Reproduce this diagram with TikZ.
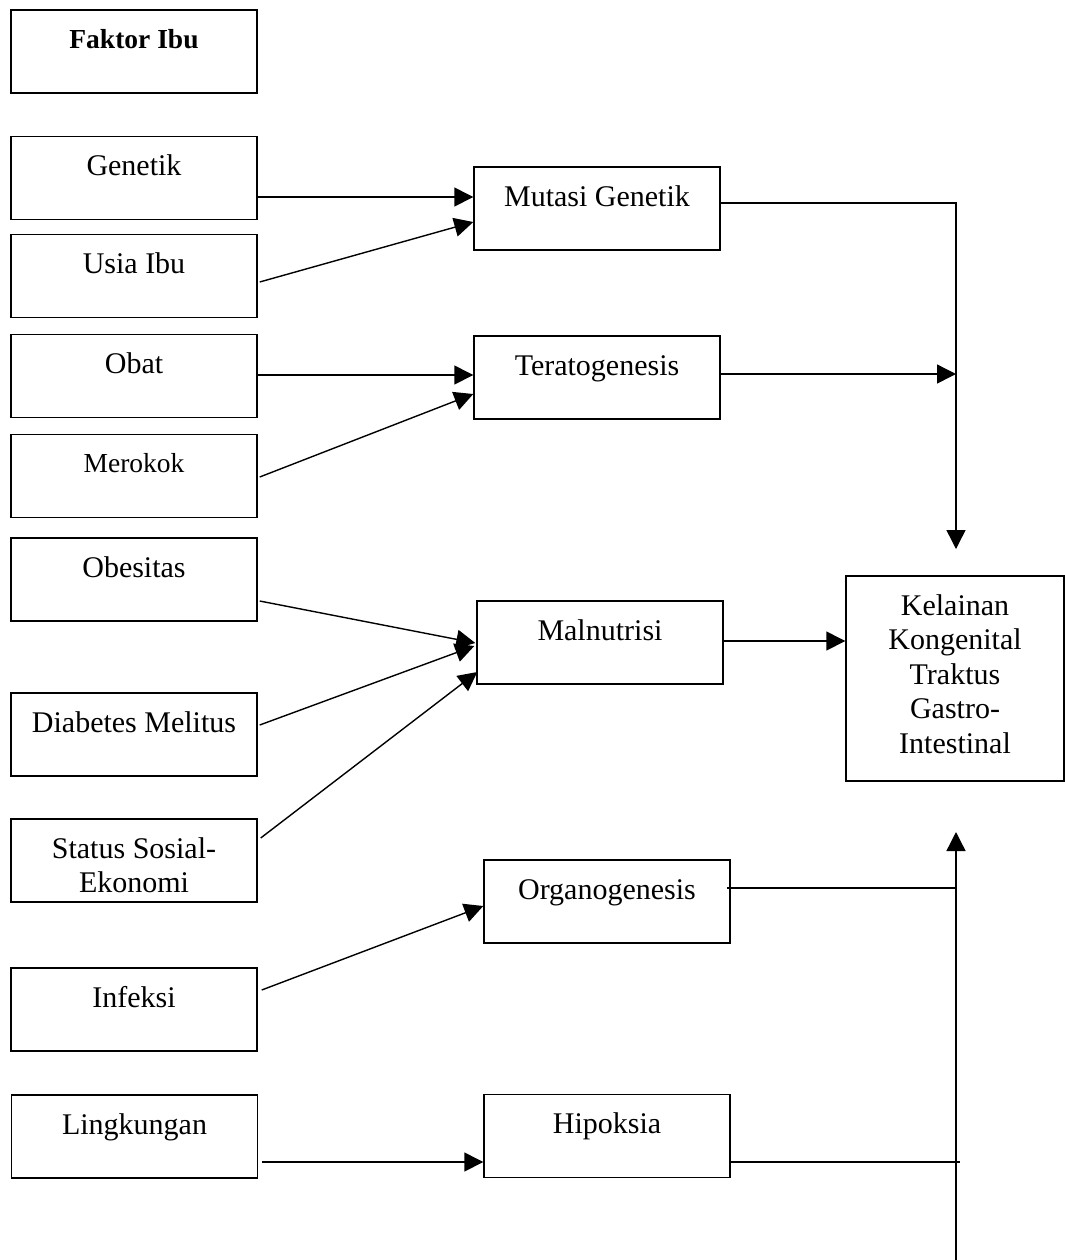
\documentclass[tikz,border=0pt]{standalone}
\usepackage{fontspec}
\setmainfont{Liberation Serif}
\usetikzlibrary{arrows.meta,calc}
\tikzset{
  box/.style={draw, line width=0.7pt, inner sep=0pt, minimum width=123pt,
    text height=19.5pt, text depth=22pt, font=\fontsize{15}{17.25}\selectfont},
  smallbox/.style={box, text height=19pt, text depth=22.5pt, font=\fontsize{13.75}{16}\selectfont},
  arr/.style={line width=0.7pt, -{Triangle[length=9.5pt,width=9.5pt]}},
  ln/.style={line width=0.7pt}
}
\begin{document}
\begin{tikzpicture}[x=0.5pt,y=-0.5pt]
\useasboundingbox (0,0) rectangle (1065,1260);
% left column
\node[box, text height=19pt, text depth=22.5pt, font=\fontsize{13.75}{16}\selectfont\bfseries] (fak) at (134,51.5) {Faktor Ibu};
\node[box] (gen) at (134,178) {Genetik};
\node[box] (usia) at (134,276) {Usia Ibu};
\node[box] (obat) at (134,376) {Obat};
\node[smallbox] (mer) at (134,476) {Merokok};
\node[box] (obe) at (134,579.5) {Obesitas};
\node[box] (dia) at (134,734.5) {Diabetes Melitus};
\node[box] (sta) at (134,860.5) {\begin{tabular}[t]{@{}c@{}}Status Sosial-\\Ekonomi\end{tabular}};
\node[box] (inf) at (134,1009.5) {Infeksi};
\node[box] (lin) at (134.5,1136.5) {Lingkungan};
% middle column
\node[box] (mut) at (597,208.5) {Mutasi Genetik};
\node[box] (ter) at (597,377.5) {Teratogenesis};
\node[box] (mal) at (600,642.5) {Malnutrisi};
\node[box] (org) at (607,901.5) {Organogenesis};
\node[box] (hip) at (607,1136) {Hipoksia};
% right
\node[box, minimum width=109pt, text depth=83pt] (kel) at (955,678.5)
  {\begin{tabular}[t]{@{}c@{}}Kelainan\\Kongenital\\Traktus\\Gastro-\\Intestinal\end{tabular}};
\coordinate (dn) at (956,549);
\coordinate (up) at (956,832);
\coordinate (bot) at (956,1260);
% connectors
\draw[arr] ($(gen.east)+(0,19)$) -- ($(mut.west)+(0,-11.5)$);
\draw[arr] ($(usia.east)+(2,6)$) -- ($(mut.west)+(0,13.5)$);
\draw[arr] ($(obat.east)+(0,-1)$) -- ($(ter.west)+(0,-2.5)$);
\draw[arr] ($(mer.east)+(2,1)$) -- ($(ter.west)+(0,16.5)$);
\draw[arr] ($(obe.east)+(2,21.5)$) -- ($(mal.west)+(-1,0.5)$);
\draw[arr] ($(dia.east)+(2,-9.5)$) -- ($(mal.west)+(-2,3.5)$);
\draw[arr] ($(sta.east)+(3,-22.5)$) -- ($(mal.west)+(1,29.5)$);
\draw[arr] ($(inf.east)+(4,-19.5)$) -- ($(org.west)+(0,4.5)$);
\draw[arr] ($(lin.east)+(4,25.5)$) -- ($(hip.west)+(0,26)$);
\draw[arr] ($(mut.east)+(0,-5.5)$) -| (dn);
\draw[arr] ($(ter.east)+(0,-3.5)$) -- ($(ter.east -| dn)+(0,-3.5)$);
\draw[arr] ($(mal.east)+(0,-1.5)$) -- ($(kel.west)+(0,-37.5)$);
\draw[arr] (bot) -- (up);
\draw[ln] ($(org.east)+(-4,-13.5)$) -- ($(org.east -| up)+(0,-13.5)$);
\draw[ln] ($(hip.east)+(0,26)$) -- ($(hip.east -| up)+(4,26)$);
\end{tikzpicture}
\end{document}
